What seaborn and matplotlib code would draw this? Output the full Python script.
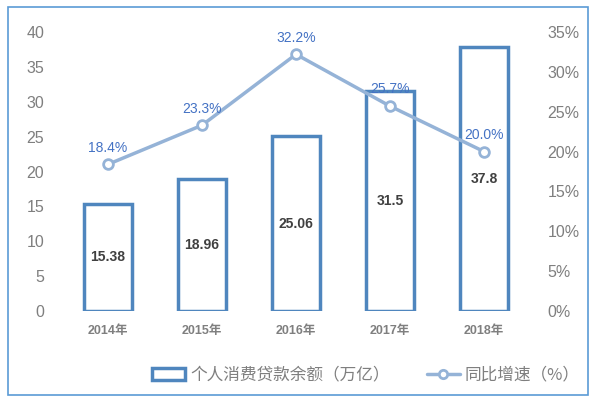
import matplotlib
matplotlib.use("Agg")
import matplotlib.pyplot as plt
import seaborn as sns
import pandas as pd
from matplotlib.patches import Rectangle, Patch
from matplotlib.lines import Line2D

years = ["2014年", "2015年", "2016年", "2017年", "2018年"]
balance = [15.38, 18.96, 25.06, 31.5, 37.8]
growth = [18.4, 23.3, 32.2, 25.7, 20.0]
balance_labels = ["15.38", "18.96", "25.06", "31.5", "37.8"]
growth_labels = ["18.4%", "23.3%", "32.2%", "25.7%", "20.0%"]
left_ticks = [0, 5, 10, 15, 20, 25, 30, 35, 40]
right_ticks = [0, 5, 10, 15, 20, 25, 30, 35]
legend_labels = ["个人消费贷款余额（万亿）", "同比增速（%）"]

sns.set_theme(style="white")
plt.rcParams['font.family'] = ['Noto Sans CJK SC', 'DejaVu Sans']

bar_edge = "#4F86BE"
line_col = "#95B3D7"
tick_col = "#7F7F7F"

df = pd.DataFrame({"year": years, "balance": balance, "growth": growth})

fig = plt.figure(figsize=(5.95, 3.99), dpi=100)
ax = fig.add_axes([61/595, 1-311/399, 470/595, 279/399])

sns.barplot(data=df, x="year", y="balance", ax=ax, color="white", saturation=1,
            edgecolor=bar_edge, linewidth=2.5, width=0.51)
ax.set_ylim(0, 40)
ax.set_yticks(left_ticks)
ax.set_xlim(-0.5, 4.5)
ax.set_xlabel("")
ax.set_ylabel("")
for s in ax.spines.values():
    s.set_visible(False)
ax.tick_params(axis="y", length=0, pad=12, labelsize=11.5, labelcolor=tick_col)
ax.tick_params(axis="x", length=0, pad=10, labelsize=9, labelcolor=tick_col)
for lab in ax.get_xticklabels():
    lab.set_fontweight("bold")
    lab.set_family(['Liberation Sans', 'Noto Sans CJK SC'])
for lab in ax.get_yticklabels():
    lab.set_family(['Liberation Sans'])

for i, (v, t) in enumerate(zip(balance, balance_labels)):
    ax.text(i, v / 2, t, ha="center", va="center", fontsize=10, fontweight="bold",
            color="#404040", family=['Liberation Sans'])

ax2 = ax.twinx()
sns.lineplot(data=df, x="year", y="growth", ax=ax2, color=line_col, linewidth=2.5,
             marker="o", markersize=7, markerfacecolor="white", markeredgecolor=line_col,
             markeredgewidth=2, sort=False)
ax2.set_ylim(0, 35)
ax2.set_yticks(right_ticks)
ax2.set_yticklabels([f"{t}%" for t in right_ticks])
ax2.set_xlim(-0.5, 4.5)
ax2.set_xlabel("")
ax2.set_ylabel("")
for s in ax2.spines.values():
    s.set_visible(False)
ax2.tick_params(axis="y", length=0, pad=12, labelsize=11.5, labelcolor=tick_col)
for lab in ax2.get_yticklabels():
    lab.set_family(['Liberation Sans'])

for i, (v, t) in enumerate(zip(growth, growth_labels)):
    ax2.annotate(t, (i, v), xytext=(0, 7), textcoords="offset points",
                 ha="center", va="bottom", fontsize=10, color="#4472C4",
                 family=['Liberation Sans'])

handles = [Patch(facecolor="white", edgecolor=bar_edge, linewidth=2.5),
           Line2D([0], [0], color=line_col, linewidth=2.5, marker="o",
                  markerfacecolor="white", markeredgecolor=line_col, markersize=6,
                  markeredgewidth=2)]
leg = fig.legend(handles, legend_labels, loc="center", bbox_to_anchor=(0.615, 0.06),
                 ncol=2, frameon=False, fontsize=12, handlelength=2.0,
                 columnspacing=2.2, handletextpad=0.3)
for t in leg.get_texts():
    t.set_color(tick_col)

fig.patches.append(Rectangle((8/595, 1-395/399), 580/595, 388/399, transform=fig.transFigure,
                             fill=False, edgecolor="#5B9BD5", linewidth=1.2))

fig.savefig("out.png", dpi=100)
